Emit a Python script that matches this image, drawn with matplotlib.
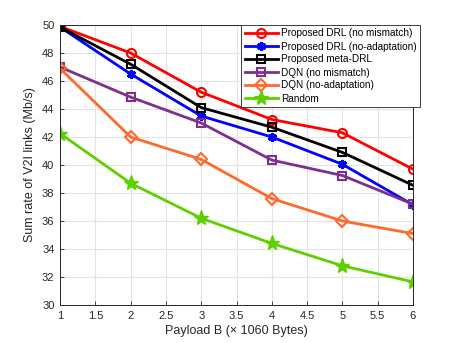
import matplotlib
matplotlib.use("Agg")
import matplotlib.pyplot as plt
import numpy as np

plt.rcParams['font.family'] = ['Liberation Sans', 'DejaVu Sans']

payload = [1, 2, 3, 4, 5, 6]
drl_no_mismatch = [49.9, 48.0, 45.2, 43.25, 42.3, 39.7]
drl_no_adapt = [49.85, 46.5, 43.5, 42.0, 40.05, 37.15]
meta_drl = [49.85, 47.2, 44.1, 42.7, 40.9, 38.55]
dqn_no_mismatch = [47.0, 44.85, 43.0, 40.35, 39.25, 37.2]
dqn_no_adapt = [46.9, 42.0, 40.4, 37.6, 36.0, 35.1]
random_ = [42.25, 38.7, 36.2, 34.4, 32.8, 31.65]

xticks = [1, 1.5, 2, 2.5, 3, 3.5, 4, 4.5, 5, 5.5, 6]
yticks = list(range(30, 51, 2))

fig = plt.figure(figsize=(4.57, 3.43), dpi=100)
ax = fig.add_axes([60/457, 1-305/343, (413-60)/457, (305-25)/343])

lw = 2.0
ax.plot(payload, drl_no_mismatch, color='#ff0000', lw=lw, marker='o', ms=6.5, mfc='none', mew=1.5, label='Proposed DRL (no mismatch)')
ax.plot(payload, drl_no_adapt, color='#0000ff', lw=lw, marker=(6, 2, 0), ms=6.5, mfc='#0000ff', mew=2.2, label='Proposed DRL (no-adaptation)')
ax.plot(payload, meta_drl, color='#000000', lw=lw, marker='s', ms=5.5, mfc='none', mew=1.5, label='Proposed meta-DRL')
ax.plot(payload, dqn_no_mismatch, color='#7e2f8e', lw=lw, marker='s', ms=5.5, mfc='none', mew=1.5, label='DQN (no mismatch)')
ax.plot(payload, dqn_no_adapt, color='#ff6a2a', lw=lw, marker='D', ms=6, mfc='none', mew=1.5, label='DQN (no-adaptation)')
ax.plot(payload, random_, color='#5fcf00', lw=lw, marker='*', ms=11, mfc='#5fcf00', mew=1.0, label='Random')

ax.set_xlim(1, 6)
ax.set_ylim(30, 50)
ax.set_xticks(xticks)
ax.set_xticklabels([('%g' % t) for t in xticks])
ax.set_yticks(yticks)
ax.grid(True, color='#e3e3e3', lw=0.8)
ax.set_axisbelow(True)
ax.tick_params(direction='in', labelsize=8, colors='#262626', length=3, width=0.6, pad=4)
for s in ax.spines.values():
    s.set_color('#262626')
    s.set_linewidth(0.7)
ax.set_xlabel('Payload B (× 1060 Bytes)', fontsize=9, color='#262626', labelpad=3)
ax.set_ylabel('Sum rate of V2I links (Mb/s)', fontsize=9, color='#262626')

leg = ax.legend(loc='upper right', bbox_to_anchor=(420/457, 1-25/343), bbox_transform=fig.transFigure,
                fontsize=7.2, frameon=True, fancybox=False, edgecolor='#404040', framealpha=1,
                handlelength=3.3, borderpad=0.35, labelspacing=0.3, handletextpad=0.3, borderaxespad=0)
leg.get_frame().set_linewidth(0.7)

fig.savefig('out.png', dpi=100)
